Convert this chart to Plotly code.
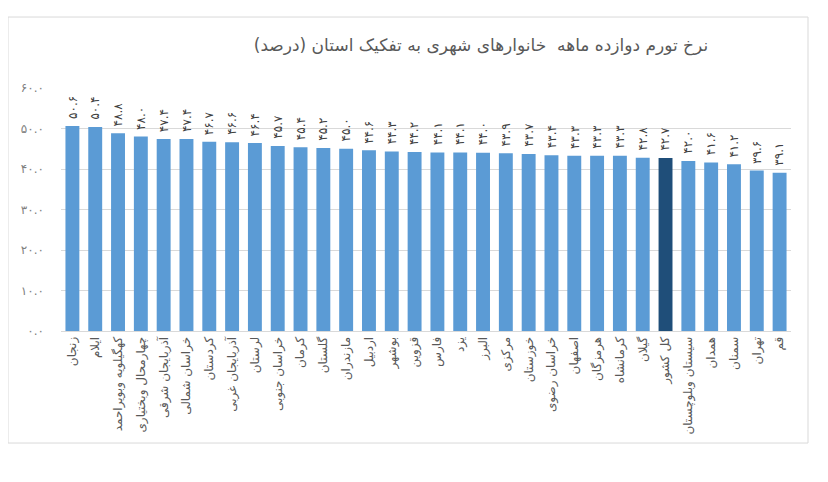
import plotly.graph_objects as go

provinces = [
    "زنجان", "ایلام", "کهگیلویه وبویراحمد", "چهارمحال وبختیاری", "آذربایجان شرقی",
    "خراسان شمالی", "کردستان", "آذربایجان غربی", "لرستان", "خراسان جنوبی",
    "کرمان", "گلستان", "مازندران", "اردبیل", "بوشهر", "قزوین", "فارس", "یزد",
    "البرز", "مرکزی", "خوزستان", "خراسان رضوی", "اصفهان", "هرمزگان", "کرمانشاه",
    "گیلان", "کل کشور", "سیستان وبلوچستان", "همدان", "سمنان", "تهران", "قم",
]
inflation = [
    50.6, 50.4, 48.8, 48.0, 47.4, 47.4, 46.7, 46.6, 46.4, 45.7,
    45.4, 45.2, 45.0, 44.6, 44.3, 44.2, 44.1, 44.1, 44.0, 43.9,
    43.7, 43.4, 43.3, 43.3, 43.3, 42.8, 42.7, 42.0, 41.6, 41.2,
    39.6, 39.1,
]
y_ticks = [0, 10, 20, 30, 40, 50, 60]
title = "نرخ تورم دوازده ماهه  خانوارهای شهری به تفکیک استان (درصد)"

FA_DIGITS = str.maketrans("0123456789", "۰۱۲۳۴۵۶۷۸۹")


def fa(v):
    return f"{v:.1f}".translate(FA_DIGITS)


colors = ["#1F4E79" if p == "کل کشور" else "#5B9BD5" for p in provinces]

fig = go.Figure(
    go.Bar(
        x=provinces,
        y=inflation,
        marker=dict(color=colors, line=dict(width=0)),
        hoverinfo="x+y",
    )
)

# value labels sit a few px above each bar, rotated like the Excel original
for p, v in zip(provinces, inflation):
    fig.add_annotation(
        x=p, y=v, text=fa(v), textangle=-90,
        showarrow=False, yanchor="bottom", yshift=5,
        font=dict(family="DejaVu Sans", size=12, color="#404040"),
    )

# chart border (Excel-style frame)
fig.add_shape(
    type="rect", xref="paper", yref="paper",
    x0=-0.0726, x1=1.0233, y0=-0.461, y1=1.292,
    line=dict(color="#D9D9D9", width=1), layer="below",
)

# page body has an 8px margin, so the figure is a bit smaller than the window
fig.update_layout(
    width=820,
    height=474,
    margin=dict(l=53, r=37, t=80, b=151),
    paper_bgcolor="white",
    plot_bgcolor="white",
    bargap=0.39,
    showlegend=False,
    font=dict(family="DejaVu Sans", color="#595959"),
    title=dict(
        text=title,
        x=473 / 820,
        xanchor="center",
        y=1 - 37 / 474,
        yanchor="middle",
        font=dict(family="DejaVu Sans", size=17, color="#595959"),
    ),
    xaxis=dict(
        tickangle=-90,
        tickfont=dict(family="DejaVu Sans", size=12, color="#595959"),
        showline=True,
        linecolor="#D9D9D9",
        ticks="",
        showgrid=False,
    ),
    yaxis=dict(
        range=[0, 60],
        tickvals=y_ticks,
        ticktext=[fa(v) for v in y_ticks],
        tickfont=dict(family="DejaVu Sans", size=12, color="#7F7F7F"),
        showgrid=True,
        gridcolor="#D9D9D9",
        zeroline=False,
        ticks="",
        ticklabelstandoff=16,
        fixedrange=True,
    ),
)

fig.write_html("out.html")
